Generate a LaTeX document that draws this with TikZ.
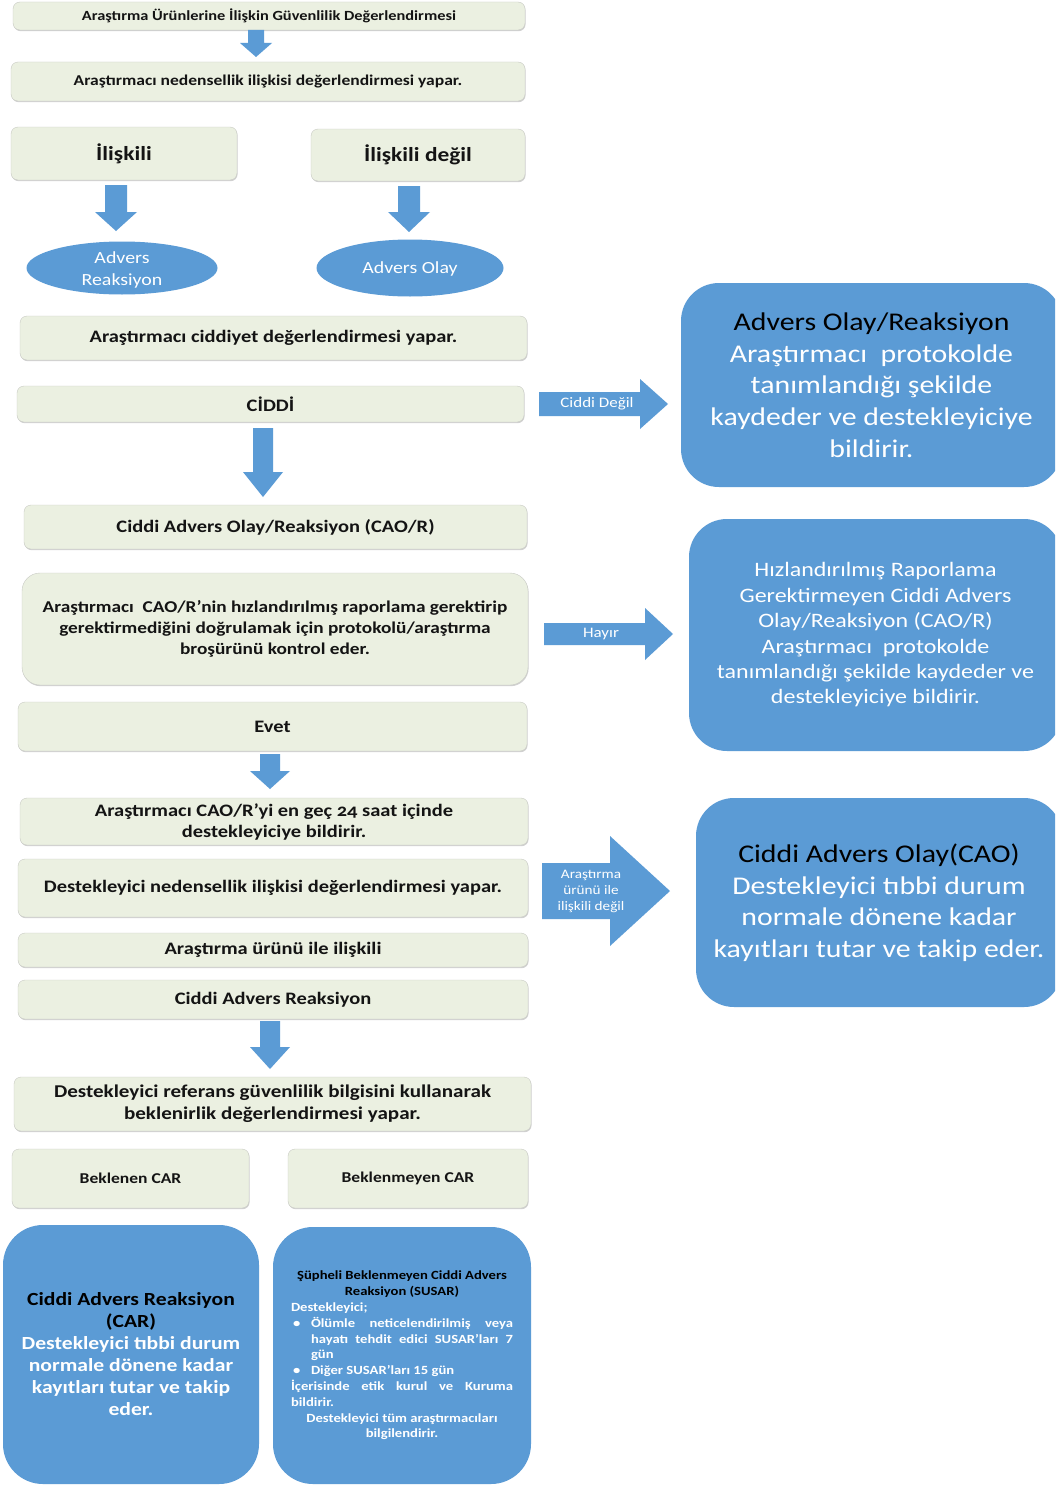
\documentclass[tikz,border=0pt]{standalone}
\usepackage{fontspec}
\setmainfont{Carlito}[FakeStretch=1.17]
\usetikzlibrary{shapes.geometric,shadows}

\definecolor{boxfill}{RGB}{235,240,225}
\definecolor{boxline}{RGB}{200,202,196}
\definecolor{blueshape}{RGB}{91,155,213}

\begin{document}
\begin{tikzpicture}[x=1pt,y=-1pt,
    lightbox/.style={draw=boxline, fill=boxfill, rounded corners=7pt, align=center, inner sep=0pt, text=black!92,
      drop shadow={shadow xshift=0.6pt, shadow yshift=-1.2pt, opacity=0.18, fill=black}},
    bluebox/.style={fill=blueshape, rounded corners=38pt, align=center, inner sep=0pt, text=white},
    txtbf/.style 2 args={font=\bfseries\fontsize{#1}{#2}\selectfont},
    txtrm/.style 2 args={font=\fontsize{#1}{#2}\selectfont}]

    \useasboundingbox (0,0) rectangle (1055,1488);
    \clip (0,0) rectangle (1055,1488);
    \fill[white] (0,0) rectangle (1055,1488);

    % left column
    \node[lightbox, minimum width=512pt, minimum height=28pt, txtbf={14}{17}] (top) at (269,16) {Araştırma Ürünlerine İlişkin Güvenlilik Değerlendirmesi};
    \node[lightbox, minimum width=514pt, minimum height=39pt, txtbf={15}{18}] (nedensellik) at (268,81.5) {Araştırmacı nedensellik ilişkisi değerlendirmesi yapar.};
    \node[lightbox, minimum width=226pt, minimum height=53pt, txtbf={20}{24}] (iliskili) at (124,153.5) {İlişkili};
    \node[lightbox, minimum width=214pt, minimum height=52pt, txtbf={20}{24}] (degil) at (418,155) {İlişkili değil};

    \node[ellipse, fill=blueshape, minimum width=191pt, minimum height=53pt, inner sep=0pt] (reaksiyon) at (122,268) {};
    \node[txtrm={17}{22}, text=white, align=center, yshift=-2pt] (reaksiyontxt) at (reaksiyon) {Advers\\Reaksiyon};
    \node[ellipse, fill=blueshape, minimum width=187pt, minimum height=57pt, inner sep=0pt] (olay) at (410,268) {};
    \node[txtrm={17}{22}, text=white, yshift=-1pt] (olaytxt) at (olay) {Advers Olay};

    \node[lightbox, minimum width=507pt, minimum height=44pt, txtbf={17.5}{21}] (ciddiyet) at (273.5,338) {Araştırmacı ciddiyet değerlendirmesi yapar.};
    \node[lightbox, minimum width=507pt, minimum height=36pt, txtbf={17.5}{21}] (ciddi) at (270.5,404) {CİDDİ};
    \node[lightbox, minimum width=503pt, minimum height=44pt, txtbf={17.5}{21}] (cao) at (275.5,527) {Ciddi Advers Olay/Reaksiyon (CAO/R)};
    \node[lightbox, rounded corners=18pt, minimum width=506pt, minimum height=112pt, txtbf={16.5}{21}] (kontrol) at (275,629) {Araştırmacı\ \ CAO/R’nin hızlandırılmış raporlama gerektirip\\gerektirmediğini doğrulamak için protokolü/araştırma\\broşürünü kontrol eder.};
    \node[lightbox, minimum width=509pt, minimum height=49pt, txtbf={17.5}{21}] (evet) at (272.5,726.5) {Evet};
    \node[lightbox, minimum width=508pt, minimum height=47pt, txtbf={17.5}{21}] (saat) at (274,821.5) {Araştırmacı CAO/R’yi en geç {\addfontfeatures{Numbers=OldStyle}24} saat içinde\\destekleyiciye bildirir.};
    \node[lightbox, minimum width=510pt, minimum height=58pt, txtbf={17.5}{21}] (destekleyici) at (273,888) {Destekleyici nedensellik ilişkisi değerlendirmesi yapar.};
    \node[lightbox, minimum width=510pt, minimum height=34pt, txtbf={17.5}{21}] (urun) at (273,950) {Araştırma ürünü ile ilişkili};
    \node[lightbox, minimum width=510pt, minimum height=39pt, txtbf={17.5}{21}] (reaksiyon2) at (273,999.5) {Ciddi Advers Reaksiyon};
    \node[lightbox, minimum width=517pt, minimum height=54pt, txtbf={18}{22}] (referans) at (272.5,1104) {Destekleyici referans güvenlilik bilgisini kullanarak\\beklenirlik değerlendirmesi yapar.};
    \node[lightbox, minimum width=237pt, minimum height=59pt, txtbf={15}{18}] (beklenen) at (130.5,1178.5) {Beklenen CAR};
    \node[lightbox, minimum width=240pt, minimum height=59pt, txtbf={15}{18}] (beklenmeyen) at (408,1178.5) {Beklenmeyen CAR};

    \node[bluebox, rounded corners=40pt, minimum width=256pt, minimum height=259pt, txtbf={18.5}{22}] (car) at (131,1354.5) {\textcolor{black}{Ciddi Advers Reaksiyon}\\\textcolor{black}{(CAR)}\\Destekleyici tıbbi durum\\normale dönene kadar\\kayıtları tutar ve takip\\eder.};
    \node[bluebox, rounded corners=40pt, minimum width=258pt, minimum height=257pt, text width=222pt, align=justify, txtbf={12.5}{15.8}] (susar) at (402,1355.5) {%
      {\centering\color{black}Şüpheli Beklenmeyen Ciddi Advers\\Reaksiyon (SUSAR)\par}
      \noindent Destekleyici;\par
      \hangindent=20pt\hangafter=1\noindent\makebox[20pt][l]{\,•}Ölümle neticelendirilmiş veya\linebreak hayatı tehdit edici SUSAR’ları 7\linebreak gün\par
      \noindent\makebox[20pt][l]{\,•}Diğer SUSAR’ları 15 gün\par
      \noindent İçerisinde etik kurul ve Kuruma\linebreak bildirir.\par
      {\centering Destekleyici tüm araştırmacıları\\bilgilendirir.\par}};

    % right column
    \node[bluebox, minimum width=381pt, minimum height=204pt, txtrm={25.5}{31.7}] (kayit) at (871.5,385) {\textcolor{black}{Advers Olay/Reaksiyon}\\Araştırmacı\ \ protokolde\\tanımlandığı şekilde\\kaydeder ve destekleyiciye\\bildirir.};
    \node[bluebox, minimum width=373pt, minimum height=232pt, txtrm={20.5}{25.4}] (hizli) at (875.5,635) {Hızlandırılmış Raporlama\\Gerektirmeyen Ciddi Advers\\Olay/Reaksiyon (CAO/R)\\Araştırmacı\ \ protokolde\\tanımlandığı şekilde kaydeder ve\\destekleyiciye bildirir.};
    \node[bluebox, minimum width=366pt, minimum height=209pt, txtrm={25.5}{31.5}] (takip) at (879,902.5) {\textcolor{black}{Ciddi Advers Olay(CAO)}\\Destekleyici tıbbi durum\\normale dönene kadar\\kayıtları tutar ve takip eder.};

    % block arrows
    \foreach \x/\a/\b/\c/\s/\h in {256/30/43/57/8/16, 116/185/212/231/11/21, 409/186/212/232/11/21,
        263/428/472/497/10/20, 270/754/771/789/10/20, 270/1021/1047/1069/10/20}
      \fill[blueshape] (\x-\s,\a) -- (\x+\s,\a) -- (\x+\s,\b) -- (\x+\h,\b) -- (\x,\c) -- (\x-\h,\b) -- (\x-\s,\b) -- cycle;

    \foreach \a/\b/\c/\y/\s/\h in {539/640/668/404/12/25, 544/645/673/634/11/26, 542/610/670/891/28/55}
      \fill[blueshape] (\a,\y-\s) -- (\b,\y-\s) -- (\b,\y-\h) -- (\c,\y) -- (\b,\y+\h) -- (\b,\y+\s) -- (\a,\y+\s) -- cycle;

    \node[txtrm={14.5}{17}, text=white] (ciddidegil) at (597,404) {Ciddi Değil};
    \node[txtrm={14.5}{17}, text=white] (hayir) at (601,634) {Hayır};
    \node[txtrm={13}{16}, text=white, align=center] (iliskilidegil) at (591,891) {Araştırma\\ürünü ile\\ilişkili değil};

\end{tikzpicture}
\end{document}
